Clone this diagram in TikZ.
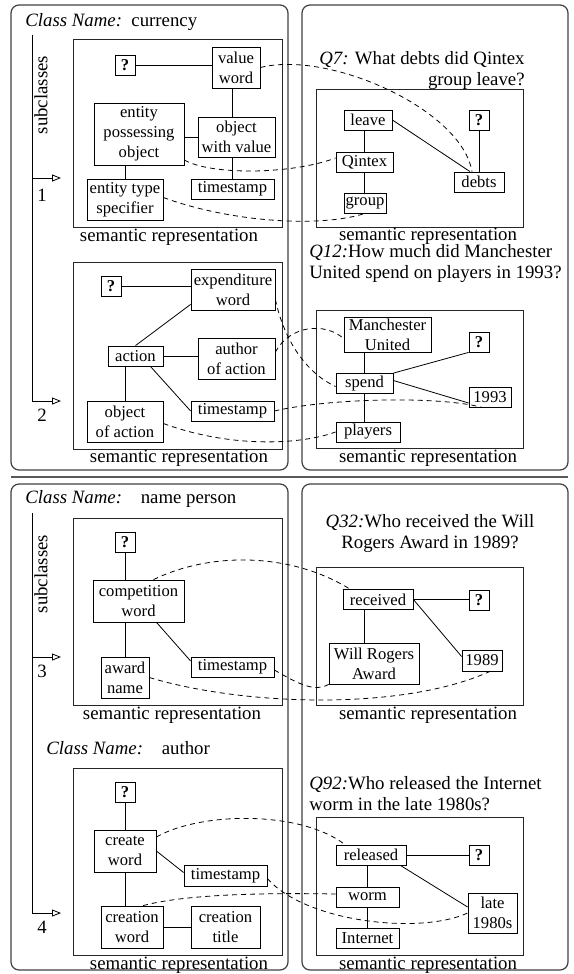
\documentclass[tikz,border=0pt]{standalone}
\usepackage{fontspec}
\setmainfont{Liberation Serif}
\usetikzlibrary{arrows.meta}
\newcommand\bigtxt{\fontsize{18.8}{21}\selectfont}
\newcommand\smalltxt{\fontsize{16.6}{20}\selectfont}
\tikzset{
  box/.style={draw,inner sep=0pt,align=center,font=\smalltxt,minimum height=20pt},
  tall/.style={minimum height=41pt},
  qbox/.style={box,minimum width=20pt,font=\smalltxt\bfseries},
  panel/.style={draw=black!75,line width=1.2pt,rounded corners=8pt},
  repbox/.style={draw=black!85,line width=1pt},
  link/.style={dash pattern=on 5pt off 4pt},
  lbl/.style={font=\bigtxt,inner sep=0pt},
  sub/.style={-{Triangle[open,length=9pt,width=7pt]}}}
\begin{document}
\begin{tikzpicture}[x=1pt,y=-1pt,line width=0.8pt]
\useasboundingbox (0,0) rectangle (573,974);
\draw[panel] (11,5) rectangle (288,470);
\draw[panel] (302,5) rectangle (568,470);
\draw[panel] (11,484) rectangle (288,970);
\draw[panel] (302,484) rectangle (568,970);
\draw[black!65,line width=2.5pt] (11,477) -- (568,477);

\node[lbl,anchor=west] (cls1) at (25,22) {\textit{Class Name:}\enspace currency};
\node[lbl,rotate=90] (subl1) at (41,95) {subclasses};
\coordinate (topa) at (32,35);
\coordinate (arr1) at (61,178);
\coordinate (arr2) at (61,401);
\draw[sub] (topa) |- (arr2);
\draw[sub] (topa |- arr1) -- (arr1);
\node[lbl] (num1) at (42,195) {1};
\node[lbl] (num2) at (42,415) {2};

\draw[repbox] (73,40) rectangle (282,227);
\node[lbl] (capa) at (169,237) {semantic representation};
\node[qbox] (qa) at (125,65) {?};
\node[box,tall,minimum width=48pt] (valword) at (236,67.5) {value\\word};
\node[box,minimum width=90pt,minimum height=62pt] (entposs) at (139,134) {entity\\possessing\\object};
\node[box,minimum width=77pt,minimum height=40pt] (objval) at (236.5,137) {object\\with value};
\node[box,tall,minimum width=76pt] (enttype) at (125,199.5) {entity type\\specifier};
\node[box,minimum width=83pt] (tsa) at (232.5,189) {timestamp};
\draw (qa.east) -- (qa.east -| valword.west);
\draw (tsa.north |- valword.south) -- (tsa.north |- objval.north);
\draw (objval.west) -- (objval.west -| entposs.east);
\draw (enttype.north) -- (enttype.north |- entposs.south);
\draw (tsa.north) -- (tsa.north |- objval.south);

\node[lbl,align=right,anchor=east] (q7) at (525,71) {\textit{Q7:} What debts did Qintex\\group leave?};
\draw[repbox] (316,89) rectangle (523,227);
\node[lbl] (capb) at (428,236) {semantic representation};
\node[box,minimum width=48pt] (leave) at (368,120) {leave};
\node[qbox] (qb) at (479,120) {?};
\node[box,minimum width=57pt] (qintex) at (364.5,162) {Qintex};
\node[box,minimum width=50pt] (debts) at (479,182) {debts};
\node[box,minimum width=42pt] (group) at (365,203) {group};
\draw (qintex.north) -- (qintex.north |- leave.south);
\draw (qintex.south) -- (qintex.south |- group.north);
\draw (leave.east) -- ([xshift=-9pt]debts.north);
\draw (qb) -- (debts);

\draw[link] (valword.east) .. controls (330,50) and (462,110) .. ([xshift=-7pt]debts.north);
\draw[link] ([yshift=-26pt]entposs.east) .. controls (210,175) and (290,175) .. ([yshift=4pt]qintex.west);
\draw[link] ([yshift=2pt]enttype.east) .. controls (230,222) and (320,228) .. (group.south);

\draw[repbox] (73,262) rectangle (282,449);
\node[lbl] (capc) at (179,458) {semantic representation};
\node[qbox] (qc) at (111,286) {?};
\node[box,tall,minimum width=84pt] (expword) at (233,289.5) {expenditure\\word};
\node[box,minimum width=55pt] (action) at (135.5,356) {action};
\node[box,tall,minimum width=77pt] (author) at (236.5,359) {author\\of action};
\node[box,minimum width=83pt] (tsb) at (232.5,411) {timestamp};
\node[box,tall,minimum width=76pt] (objact) at (125,421.5) {object\\of action};
\draw (qc.east) -- (qc.east -| expword.west);
\draw (action.north) -- ([yshift=6pt]expword.south west);
\draw (action.east) -- (action.east -| author.west);
\draw ([xshift=-13pt]action.south east) -- (tsb.west);
\draw (objact.north) -- (objact.north |- action.south);

\node[lbl,align=left,anchor=west] (q12) at (309,264) {\textit{Q12:}How much did Manchester\\United spend on players in 1993?};
\draw[repbox] (316,310) rectangle (523,448);
\node[lbl] (capd) at (428,458) {semantic representation};
\node[box,minimum width=87pt,minimum height=35pt] (manu) at (387.5,334.5) {Manchester\\United};
\node[qbox] (qd) at (479,342) {?};
\node[box,minimum width=57pt] (spend) at (364.5,383.5) {spend};
\node[box,minimum width=42pt] (yr93) at (490,397) {1993};
\node[box,minimum width=64pt] (players) at (368,432) {players};
\draw (spend.north) -- (spend.north |- manu.south);
\draw (spend.south) -- (spend.south |- players.north);
\draw (spend.north east) -- (qd.south west);
\draw ([yshift=3pt]spend.east) -- ([yshift=-6pt]yr93.west);

\draw[link] ([yshift=-10pt]expword.east) .. controls (285,345) and (310,375) .. ([yshift=-3pt]spend.west);
\draw[link] ([yshift=7pt]author.east) .. controls (290,325) and (325,322) .. ([yshift=-4pt]manu.west);
\draw[link] (tsb.east) .. controls (330,398) and (440,396) .. ([xshift=-8pt]yr93.south);
\draw[link] ([yshift=-2pt]objact.east) .. controls (230,448) and (300,445) .. (players.west);

\node[lbl,anchor=west] (cls2) at (25,499) {\textit{Class Name:}\quad name person};
\node[lbl,rotate=90] (subl2) at (41,574) {subclasses};
\coordinate (topb) at (32,513);
\coordinate (arr3) at (61,657);
\coordinate (arr4) at (61,913);
\draw[sub] (topb) |- (arr4);
\draw[sub] (topb |- arr3) -- (arr3);
\node[lbl] (num3) at (42,671) {3};
\node[lbl] (num4) at (42,927) {4};

\draw[repbox] (73,518) rectangle (282,705);
\node[lbl] (cape) at (172,715) {semantic representation};
\node[qbox] (qe) at (125,542.5) {?};
\node[box,minimum width=91pt,minimum height=42pt] (compword) at (138.5,601) {competition\\word};
\node[box,tall,minimum width=48pt] (awname) at (125,677.5) {award\\name};
\node[box,minimum width=83pt] (tsc) at (232.5,667) {timestamp};
\draw (qe.south) -- (qe.south |- compword.north);
\draw (awname.north) -- (awname.north |- compword.south);
\draw ([xshift=18pt]compword.south) -- ([yshift=6pt]tsc.west);

\node[lbl,align=center] (q32) at (430,534) {\textit{Q32:}Who received the Will\\Rogers Award in 1989?};
\draw[repbox] (316,567) rectangle (523,705);
\node[lbl] (capf) at (428,715) {semantic representation};
\node[box,minimum width=70pt] (received) at (378,599.5) {received};
\node[qbox] (qf) at (479,600) {?};
\node[box,tall,minimum width=90pt] (willrog) at (374,663.5) {Will Rogers\\Award};
\node[box,minimum width=40pt,minimum height=21pt] (yr89) at (482,660.5) {1989};
\draw (received.east) -- (received.east -| qf.west);
\draw ([xshift=-14pt]received.south) -- ([xshift=-14pt]received.south |- willrog.north);
\draw (received.east) -- ([yshift=4pt]yr89.west);

\draw[link] ([xshift=15pt]compword.north) .. controls (210,552) and (290,552) .. ([xshift=-28pt]received.north);
\draw[link] (awname.east) .. controls (240,705) and (400,712) .. ([xshift=8pt]yr89.south);
\draw[link] ([yshift=-3pt]tsc.east) .. controls (300,685) and (315,692) .. (willrog.south west);

\node[lbl,anchor=west] (cls3) at (46,748) {\textit{Class Name:}\quad author};
\draw[repbox] (73,768) rectangle (282,955);
\node[lbl] (capg) at (179,965) {semantic representation};
\node[qbox] (qg) at (125,792) {?};
\node[box,minimum width=62pt,minimum height=42pt] (crword) at (125,851) {create\\word};
\node[box,minimum width=83pt,minimum height=21pt] (tsd) at (225.5,875.5) {timestamp};
\node[box,minimum width=62pt,minimum height=42pt] (crnword) at (132,927) {creation\\word};
\node[box,minimum width=69pt,minimum height=42pt] (crtitle) at (225.5,927) {creation\\title};
\draw (qg) -- (crword);
\draw (crword.south) -- (crword.south |- crnword.north);
\draw (crword.east) -- ([yshift=3pt]tsd.west);
\draw (crnword) -- (crtitle);

\node[lbl,align=left,anchor=west] (q92) at (309,794) {\textit{Q92:}Who released the Internet\\worm in the late 1980s?};
\draw[repbox] (316,817) rectangle (523,955);
\node[lbl] (caph) at (428,965) {semantic representation};
\node[box,minimum width=70pt] (released) at (371,855) {released};
\node[qbox] (qh) at (479,855) {?};
\node[box,minimum width=63pt] (worm) at (367.5,897) {worm};
\node[box,minimum width=49pt,minimum height=40pt] (late80) at (492.5,913) {late\\1980s};
\node[box,minimum width=63pt] (internet) at (367.5,938) {Internet};
\draw (released) -- (qh);
\draw (worm.north) -- (worm.north |- released.south);
\draw (worm) -- (internet);
\draw ([xshift=-6pt]released.south east) -- ([yshift=6pt]late80.west);

\draw[link] ([yshift=14pt]crword.east) .. controls (200,812) and (300,810) .. ([xshift=-26pt]released.north);
\draw[link] ([yshift=-3pt]tsd.east) .. controls (305,922) and (420,935) .. (late80.west);
\draw[link] ([xshift=11pt]crnword.north) .. controls (190,893) and (280,893) .. ([yshift=3pt]worm.west);
\end{tikzpicture}
\end{document}
